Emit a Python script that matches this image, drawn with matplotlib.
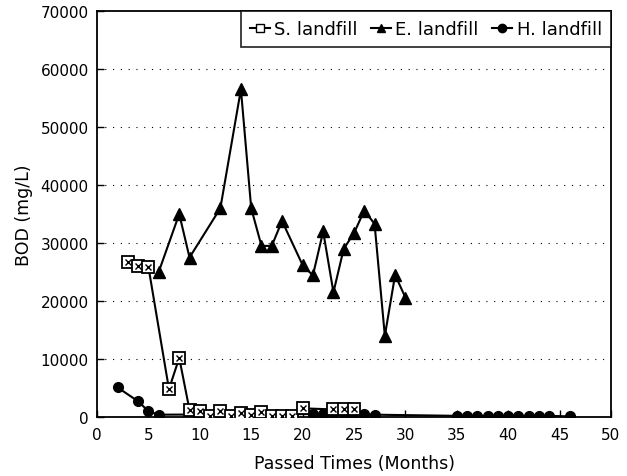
import matplotlib
matplotlib.use("Agg")
import matplotlib.pyplot as plt
from matplotlib.lines import Line2D

s_months = [3, 4, 5, 7, 8, 9, 10, 11, 12, 13, 14, 15, 16, 17, 18, 19, 20, 23, 24, 25]
s_bod = [26800, 26100, 25900, 4800, 10200, 1200, 1100, 200, 1000, 200, 700, 300, 900, 200, 200, 200, 1500, 1300, 1300, 1300]

e_months = [6, 8, 9, 12, 14, 15, 16, 17, 18, 20, 21, 22, 23, 24, 25, 26, 27, 28, 29, 30]
e_bod = [25000, 35000, 27500, 36000, 56500, 36000, 29500, 29500, 33800, 26200, 24400, 32000, 21500, 29000, 31700, 35600, 33300, 14000, 24500, 20600]

h_months = [2, 4, 5, 6, 21, 22, 23, 24, 25, 26, 27, 35, 36, 37, 38, 39, 40, 41, 42, 43, 44, 46]
h_bod = [5100, 2700, 1000, 400, 500, 500, 500, 500, 500, 500, 400, 200, 200, 200, 200, 200, 200, 200, 200, 200, 200, 100]

y_ticks = [0, 10000, 20000, 30000, 40000, 50000, 60000, 70000]
x_ticks = [0, 5, 10, 15, 20, 25, 30, 35, 40, 45, 50]
labels = ['S. landfill', 'E. landfill', 'H. landfill']

plt.rcParams['font.family'] = ['DejaVu Sans']

fig = plt.figure(figsize=(6.27, 4.77), dpi=100)
ax = fig.add_axes([97 / 627, 59 / 477, 514 / 627, 406 / 477])

for y in y_ticks[1:-1]:
    ax.axhline(y, color='black', lw=0.8, ls=(0, (1, 6)), zorder=0)

ax.plot(e_months, e_bod, color='black', lw=1.5, marker='^', ms=8, mfc='black', mec='black', zorder=3)
ax.plot(h_months, h_bod, color='black', lw=1.5, marker='o', ms=7, mfc='black', mec='black', zorder=3)
ax.plot(s_months, s_bod, color='black', lw=1.5, marker='s', ms=8, mfc='white', mec='black', mew=1.3, zorder=4)
ax.plot(s_months, s_bod, ls='none', marker='x', ms=5, mec='black', mew=1.0, zorder=5)

ax.set_xlim(0, 50)
ax.set_ylim(0, 70000)
ax.set_xticks(x_ticks)
ax.set_yticks(y_ticks)
ax.tick_params(direction='in', length=5, width=1, labelsize=11)
ax.tick_params(axis='x', pad=7)
ax.tick_params(axis='y', pad=6)
for sp in ax.spines.values():
    sp.set_linewidth(1.3)

ax.set_xlabel('Passed Times (Months)', fontsize=12.5, labelpad=9)
ax.set_ylabel('BOD (mg/L)', fontsize=12.5, labelpad=5)

handles = [
    Line2D([], [], color='black', lw=1.5, marker='s', ms=6, mfc='white', mec='black'),
    Line2D([], [], color='black', lw=1.5, marker='^', ms=6, mfc='black', mec='black'),
    Line2D([], [], color='black', lw=1.5, marker='o', ms=6, mfc='black', mec='black'),
]
leg = ax.legend(handles, labels, ncol=3, loc='upper right',
                bbox_to_anchor=(1.0, 1.0), frameon=True, fancybox=False, edgecolor='black',
                handlelength=1.1, handletextpad=0.25, columnspacing=0.75, borderpad=0.5,
                borderaxespad=0.0, prop={'size': 13})
leg.get_frame().set_linewidth(1.3)

fig.savefig('out.png', dpi=100)
